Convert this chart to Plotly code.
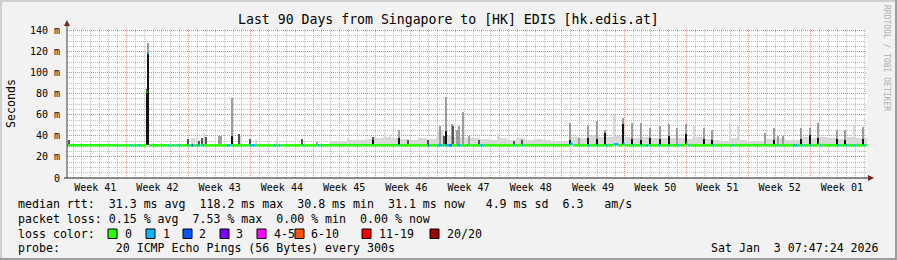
import plotly.graph_objects as go
import pandas as pd

# ---------------- data ----------------
title_text = "Last 90 Days from Singapore to [HK] EDIS [hk.edis.at]"
start = pd.Timestamp("2025-10-05 07:47:24")
span_days = 90

week_centers = ["2025-10-08 12:00", "2025-10-15 12:00", "2025-10-22 12:00", "2025-10-29 12:00",
                "2025-11-05 12:00", "2025-11-12 12:00", "2025-11-19 12:00", "2025-11-26 12:00",
                "2025-12-03 12:00", "2025-12-10 12:00", "2025-12-17 12:00", "2025-12-24 12:00",
                "2025-12-31 12:00"]
week_labels = ["Week 41", "Week 42", "Week 43", "Week 44", "Week 45", "Week 46", "Week 47",
               "Week 48", "Week 49", "Week 50", "Week 51", "Week 52", "Week 01"]

y_ticks = [0, 20, 40, 60, 80, 100, 120, 140]
y_ticktext = ["0", "20 m", "40 m", "60 m", "80 m", "100 m", "120 m", "140 m"]

# median rtt (ms), step knots: day offset from start
med_day = [0.0, 8.93, 9.07, 9.21, 56.6, 56.9, 61.5, 62.0, 62.55, 62.75, 69.65, 69.85, 84.5, 84.7]
med_val = [31.0, 82.0, 118.2, 31.0, 32.5, 31.0, 32.0, 31.0, 32.5, 31.0, 32.5, 31.0, 32.0, 31.0]

# packet loss events (day start, day end, lost pings of 20)
loss_start = [5.6, 7.1, 7.6, 8.0, 9.07, 11.3, 11.9, 12.5, 13.5, 14.0, 14.6, 15.3, 18.0, 20.6, 23.2,
              23.8, 26.5, 28.2, 37.3, 40.6, 41.7, 42.5, 43.0, 43.9, 45.0, 46.5, 50.2, 51.2, 56.6,
              58.6, 59.6, 60.6, 61.5, 62.6, 63.6, 64.5, 65.1, 66.5, 67.7, 68.7, 69.8, 72.6, 74.8,
              79.9, 81.7, 82.7, 83.6, 84.7, 86.7, 87.6, 88.5, 89.6]
loss_end = [5.75, 7.3, 7.75, 8.2, 9.21, 11.5, 12.1, 12.7, 13.7, 14.2, 15.0, 15.45, 18.4, 21.2, 23.5,
            24.0, 26.65, 28.35, 37.45, 40.75, 42.2, 43.0, 43.3, 44.3, 45.15, 46.8, 50.35, 51.35, 56.95,
            58.75, 59.75, 60.85, 62.0, 62.75, 63.75, 64.65, 65.4, 66.65, 67.85, 68.85, 69.95, 72.75, 75.0,
            80.05, 82.2, 82.85, 83.75, 84.85, 86.85, 87.75, 88.65, 89.75]
loss_n = [1, 1, 1, 1, 1, 1, 1, 1, 1, 2, 1, 1, 1, 1, 1,
          1, 1, 1, 1, 2, 1, 1, 2, 1, 1, 1, 1, 1, 1,
          1, 1, 1, 1, 1, 1, 1, 1, 1, 1, 1, 1, 1, 1,
          1, 1, 1, 1, 1, 1, 1, 1, 1]

# smoke spikes (day, top ms, shade 0 light..3 black, dark core top ms or 0)
spike_day = [0.26, 9.0, 9.15, 13.57, 14.13, 14.32, 14.62, 14.88, 15.25, 15.45, 15.70, 17.13, 17.32,
             18.52, 19.38, 19.61, 20.62, 21.26, 23.62, 26.50, 28.19, 31.65, 34.46, 35.75, 36.35,
             37.39, 38.32, 40.65, 41.75, 41.94, 42.2, 42.45, 42.67, 43.29, 43.46, 43.94, 44.13,
             44.55, 45.26, 46.38, 48.52, 50.32, 51.22, 56.62, 57.63, 58.64, 59.62, 60.59, 61.57,
             62.58, 63.59, 64.6, 65.63, 66.67, 67.69, 68.62, 69.67, 70.57, 71.62, 72.56, 74.62,
             75.55, 78.55, 79.56, 80.05, 80.6, 82.58, 83.6, 84.55, 86.62, 87.55, 88.56, 89.6]
spike_top = [36, 84, 128, 37, 38, 38, 39, 35, 38, 43, 39, 39.5, 39.5,
             75.5, 42, 40, 37, 36, 36, 37, 34, 38, 38.6, 42, 42,
             46, 36, 36, 46, 49, 46, 40, 77, 51, 49, 46, 49,
             62.5, 40, 36, 42, 35, 36, 52, 38, 49, 54, 46, 60,
             57, 52, 52, 47, 49, 51, 47, 51, 49, 47, 46, 52,
             49, 43, 47, 40, 40, 47, 47, 52, 46, 46, 50, 48]
spike_shade = [2, 3, 1, 2, 0, 0, 0, 2, 2, 0, 2, 1, 1,
               1, 2, 0, 2, 0, 0, 2, 1, 0, 2, 0, 0,
               1, 2, 2, 0, 1, 0, 2, 1, 1, 2, 1, 1,
               1, 1, 2, 0, 2, 2, 1, 1, 1, 1, 1, 0,
               1, 1, 1, 1, 1, 1, 1, 1, 0, 1, 1, 0,
               0, 1, 1, 1, 1, 1, 1, 1, 1, 1, 0, 1]
core_top = [0, 0, 118.2, 0, 0, 0, 0, 0, 0, 0, 0, 0, 0,
            40, 0, 0, 0, 0, 0, 0, 0, 0, 36, 0, 0,
            38, 0, 0, 0, 0, 0, 0, 45, 0, 0, 0, 0,
            0, 0, 0, 0, 0, 0, 36, 0, 38, 37, 43, 0,
            51, 37, 36, 38, 37, 40, 0, 42, 0, 37, 36, 0,
            0, 0, 36, 0, 0, 37, 41, 38, 37, 36, 0, 37]

# light background smoke, one-day bins (bin start day, top ms)
haze_day = [29.5, 30.5, 31.5, 32.5, 33.5, 34.5, 35.5, 36.5, 37.5, 38.5, 39.5, 40.5, 41.5, 42.5,
            43.5, 44.5, 45.5, 46.5, 47.5, 48.5, 49.5, 50.5, 51.5, 52.5, 53.5, 54.5, 55.5, 56.5,
            57.5, 58.5, 59.5, 60.5, 61.5, 62.5, 63.5, 64.5, 65.5, 66.5, 67.5, 68.5, 69.5, 70.5,
            71.5, 72.5, 73.5, 74.5, 75.5, 76.5, 77.5, 78.5, 79.5, 80.5, 81.5, 82.5, 83.5, 84.5,
            85.5, 86.5, 87.5, 88.5, 89.0]
haze_top = [35, 35.5, 36.5, 36, 37, 38, 39, 37.5, 37, 36.5, 37.5, 37, 39, 40,
            39, 37.5, 38, 37, 36.5, 38, 36.5, 37.5, 36.5, 37, 36, 35.5, 35, 39,
            38, 39.5, 39, 38.5, 40, 39, 38, 38.5, 37.5, 38, 37.5, 38, 37, 38.5,
            37, 36, 35.5, 37.5, 36, 35, 35.5, 37, 38, 36.5, 36, 38.5, 38, 39,
            38, 37, 38.5, 38, 37.5]

stats_median = "median rtt:  31.3 ms avg  118.2 ms max  30.8 ms min  31.1 ms now   4.9 ms sd  6.3   am/s"
stats_loss = "packet loss: 0.15 % avg  7.53 % max  0.00 % min  0.00 % now"
probe_text = "probe:        20 ICMP Echo Pings (56 Bytes) every 300s"
date_text = "Sat Jan  3 07:47:24 2026"
loss_labels = ["0", "1", "2", "3", "4-5", "6-10", "11-19", "20/20"]
loss_colors = ["#26ff00", "#00b8ff", "#0059ff", "#7e00ff", "#ff00ff", "#ff5500", "#ff0000", "#a10000"]

# ---------------- geometry / style ----------------
W, H = 897, 260
L, R, T, B = 67, 30, 29, 82
PW, PH = W - L - R, H - T - B
MONO = "DejaVu Sans Mono"
shade_cols = ["#d8d8d8", "#9c9c9c", "#555555", "#141414"]
DAY_MS = 86400000


def px(x):
    return (x - L) / PW


def py(y):
    return (H - B - y) / PH


def t(day):
    return start + pd.to_timedelta(day, unit="D")


def nb(s):
    return s.replace(" ", "\u00a0")


def loss_col(n):
    if n <= 0:
        return loss_colors[0]
    if n == 1:
        return loss_colors[1]
    if n == 2:
        return loss_colors[2]
    if n == 3:
        return loss_colors[3]
    if n <= 5:
        return loss_colors[4]
    if n <= 10:
        return loss_colors[5]
    if n <= 19:
        return loss_colors[6]
    return loss_colors[7]


fig = go.Figure()

# haze
fig.add_trace(go.Bar(
    x=[t(d + 0.5) for d in haze_day], y=[v - 31 for v in haze_top], base=31,
    width=DAY_MS, marker=dict(color=shade_cols[0], line=dict(width=0)),
    hoverinfo="skip", showlegend=False))

# spikes
fig.add_trace(go.Bar(
    x=[t(d) for d in spike_day], y=[v - 31 for v in spike_top], base=31,
    width=0.14 * DAY_MS, marker=dict(color=[shade_cols[s] for s in spike_shade], line=dict(width=0)),
    hoverinfo="skip", showlegend=False))
cx = [t(d) for d, c in zip(spike_day, core_top) if c > 0]
cy = [c - 31 for c in core_top if c > 0]
fig.add_trace(go.Bar(
    x=cx, y=cy, base=31, width=0.14 * DAY_MS,
    marker=dict(color=shade_cols[3], line=dict(width=0)),
    hoverinfo="skip", showlegend=False))

# median line coloured by loss
bps = sorted(set(med_day) | set(loss_start) | set(loss_end) | {0.0, float(span_days)})
segs = {}
for a, b in zip(bps[:-1], bps[1:]):
    idx = max(i for i, d in enumerate(med_day) if d <= a + 1e-9)
    v = med_val[idx]
    n = 0
    for s, e, k in zip(loss_start, loss_end, loss_n):
        if s <= a + 1e-9 and a < e - 1e-9:
            n = k
    col = loss_col(n)
    xs, ys = segs.setdefault(col, ([], []))
    xs += [t(a), t(b), None]
    ys += [v, v, None]
order = sorted(segs.keys(), key=lambda c: loss_colors.index(c))
for col in order:
    xs, ys = segs[col]
    fig.add_trace(go.Scatter(x=xs, y=ys, mode="lines", line=dict(color=col, width=2.5),
                             hoverinfo="skip", showlegend=False, xaxis="x"))

# invisible trace to activate xaxis2
fig.add_trace(go.Scatter(x=[t(0), t(span_days)], y=[None, None], xaxis="x2", yaxis="y",
                         mode="lines", showlegend=False, hoverinfo="skip"))

x_range = [t(0), t(span_days)]
MAJ = "rgba(240,110,110,0.75)"
MIN = "rgba(160,160,160,0.7)"
fig.update_layout(
    width=W, height=H, autosize=False,
    margin=dict(l=L, r=R, t=T, b=B, pad=0),
    paper_bgcolor="#f2f2f2", plot_bgcolor="#ffffff",
    barmode="overlay", bargap=0,
    xaxis=dict(type="date", range=x_range, showticklabels=False, ticks="",
               showgrid=True, gridcolor=MAJ, griddash="1px,1px", gridwidth=1,
               tick0="2025-10-12", dtick=7 * DAY_MS,
               minor=dict(showgrid=True, dtick=DAY_MS, tick0="2025-10-05",
                          gridcolor=MIN, griddash="1px,1px", gridwidth=1),
               zeroline=False, showline=False, fixedrange=True),
    xaxis2=dict(type="date", range=x_range, overlaying="x", anchor="y", side="bottom",
                tickmode="array", tickvals=week_centers, ticktext=week_labels,
                showgrid=False, ticks="", showline=False, zeroline=False,
                tickfont=dict(family=MONO, size=10, color="#000000"), ticklabelstandoff=2),
    yaxis=dict(range=[0, 141.4], tickmode="array", tickvals=y_ticks, ticktext=y_ticktext,
               showgrid=True, gridcolor=MAJ, griddash="1px,1px", gridwidth=1,
               minor=dict(showgrid=True, dtick=5, tick0=0,
                          gridcolor=MIN, griddash="1px,1px", gridwidth=1),
               ticks="", zeroline=False, showline=False,
               tickfont=dict(family=MONO, size=10, color="#000000"), ticklabelstandoff=6),
)

shapes = []
# frame (3D border)
shapes.append(dict(type="rect", xref="paper", yref="paper", x0=px(0), x1=px(W), y0=py(0), y1=py(2),
                   fillcolor="#cfcfcf", line=dict(width=0), layer="above"))
shapes.append(dict(type="rect", xref="paper", yref="paper", x0=px(0), x1=px(2), y0=py(0), y1=py(H),
                   fillcolor="#cfcfcf", line=dict(width=0), layer="above"))
shapes.append(dict(type="rect", xref="paper", yref="paper", x0=px(0), x1=px(W), y0=py(H - 2), y1=py(H),
                   fillcolor="#9e9e9e", line=dict(width=0), layer="above"))
shapes.append(dict(type="rect", xref="paper", yref="paper", x0=px(W - 2), x1=px(W), y0=py(0), y1=py(H),
                   fillcolor="#9e9e9e", line=dict(width=0), layer="above"))
# axes
shapes.append(dict(type="line", xref="paper", yref="paper", x0=px(67), x1=px(67), y0=py(178), y1=py(25),
                   line=dict(color="#3a3a3a", width=1), layer="above"))
shapes.append(dict(type="line", xref="paper", yref="paper", x0=px(64), x1=px(869), y0=py(178), y1=py(178),
                   line=dict(color="#1f1f1f", width=1), layer="above"))
# arrows
shapes.append(dict(type="path", xref="paper", yref="paper",
                   path=f"M {px(64)} {py(26)} L {px(70)} {py(26)} L {px(67)} {py(20)} Z",
                   fillcolor="#801f1f", line=dict(width=0), layer="above"))
shapes.append(dict(type="path", xref="paper", yref="paper",
                   path=f"M {px(868)} {py(175)} L {px(868)} {py(181)} L {px(874)} {py(178)} Z",
                   fillcolor="#801f1f", line=dict(width=0), layer="above"))

# loss colour boxes
box_x = [108, 146, 183, 220, 257, 295, 362, 430]
lab_x = [123, 161, 197, 234, 272, 309, 377, 445]
for bx, col in zip(box_x, loss_colors):
    shapes.append(dict(type="rect", xref="paper", yref="paper", x0=px(bx), x1=px(bx + 9),
                       y0=py(238.5), y1=py(229), fillcolor=col,
                       line=dict(color="#000000", width=1), layer="above"))

ann = []


def text(x, y, s, size=11.6, anchor="left", color="#000000", angle=0):
    ann.append(dict(x=px(x), y=py(y), xref="paper", yref="paper", text=nb(s), showarrow=False,
                    xanchor=anchor, yanchor="middle", textangle=angle,
                    font=dict(family=MONO, size=size, color=color)))


text(448, 19, title_text, size=13.2, anchor="center")
text(11, 103, "Seconds", size=11.6, anchor="center", angle=-90)
text(887, 58, "RRDTOOL / TOBI OETIKER", size=8, anchor="center", color="#b0b0b0", angle=90)
text(16, 204, stats_median)
text(16, 218.7, stats_loss)
text(16, 233.5, "loss color:")
for lx, lab in zip(lab_x, loss_labels):
    text(lx, 233.5, lab)
text(16, 248.3, probe_text)
text(881, 248.3, date_text, anchor="right")

fig.update_layout(shapes=shapes, annotations=ann)
fig.write_html("out.html")
